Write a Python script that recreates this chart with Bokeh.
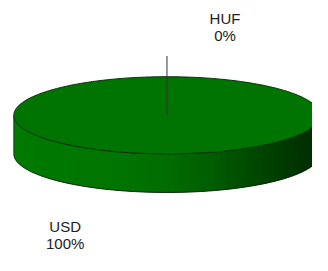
import numpy as np
from bokeh.plotting import figure
from bokeh.models import Range1d
from bokeh.embed import file_html
from bokeh.resources import INLINE
from bokeh.core.properties import value

# ---- data ----
categories = ["USD", "HUF"]
values = [100, 0]
percent_labels = ["100%", "0%"]

# ---- layout / style (reference-pixel data space) ----
W, H = 312, 255
cx, cy = 175.0, 122.0
rx, ry = 161.0, 41.0
depth = 41.0
start_angle = np.pi / 2  # first slice starts at 12 o'clock, goes clockwise

p = figure(width=W, height=H, x_range=Range1d(0, 328), y_range=Range1d(271, 0),
           output_backend="svg", toolbar_location=None, min_border=0)
p.axis.visible = False
p.grid.visible = False
p.outline_line_color = None
p.background_fill_color = "white"
p.border_fill_color = "white"

total = float(sum(values))
fracs = [v / total for v in values]
starts, ends = [], []
a = start_angle
for f in fracs:
    starts.append(a)
    a = a - f * 2 * np.pi
    ends.append(a)

def ell(t, dy=0.0):
    return cx + rx * np.cos(t), cy - ry * np.sin(t) + dy

# ---- side (front lower half) with horizontal gradient ----
stops_x = [0.0, 0.35, 0.5, 0.65, 0.85, 1.0]
stops_g = [122, 116, 108, 92, 62, 42]
N = 80
ts = np.linspace(np.pi, 2 * np.pi, N + 1)
xs_list, ys_list, cols = [], [], []
for i in range(N):
    t0, t1 = ts[i], ts[min(i + 2, N)]  # overlap neighbouring strip to hide seams
    x0, y0 = ell(t0)
    x1, y1 = ell(t1)
    xs_list.append([x0, x1, x1, x0])
    ys_list.append([y0, y1, y1 + depth, y0 + depth])
    xm, _ = ell((ts[i] + ts[i + 1]) / 2)
    fx = (xm - (cx - rx)) / (2 * rx)
    g = int(round(np.interp(fx, stops_x, stops_g)))
    cols.append("#%02x%02x%02x" % (0, g, 0))
p.patches(xs_list, ys_list, fill_color=cols, line_color=None)

# side outline
tb = np.linspace(np.pi, 2 * np.pi, 200)
bx, by = ell(tb, depth)
p.line(bx, by, line_color="#0a2a0a", line_width=1)
lx, ly = ell(np.pi)
p.line([lx, lx], [ly, ly + depth], line_color="#0a2a0a", line_width=0.8)

# ---- top face: slices ----
top_colors = ["#007400", "#007400"]
for s, e, col in zip(starts, ends, top_colors):
    if abs(s - e) < 1e-9:
        continue
    tt = np.linspace(s, e, 300)
    px, py = ell(tt)
    p.patch(list(px), list(py), fill_color=col, line_color=None)

# top outline
tt = np.linspace(0, 2 * np.pi, 400)
ox, oy = ell(tt)
p.line(ox, oy, line_color="#0a2a0a", line_width=1)

# ---- leader line for HUF (zero slice) ----
mid_huf = (starts[1] + ends[1]) / 2
p.line([cx, cx], [cy, 59], line_color="#333333", line_width=1)

# ---- labels ----
label_x = [68, 236]
label_y1 = [240, 19]
label_y2 = [258, 37]
font = value("Liberation Sans")
p.text(x=label_x, y=label_y1, text=categories, text_align="center", text_baseline="middle",
       text_font=font, text_font_size="15px", text_color="#222222")
p.text(x=label_x, y=label_y2, text=percent_labels, text_align="center", text_baseline="middle",
       text_font=font, text_font_size="15px", text_color="#222222")

open("out.html", "w").write(file_html(p, INLINE))
